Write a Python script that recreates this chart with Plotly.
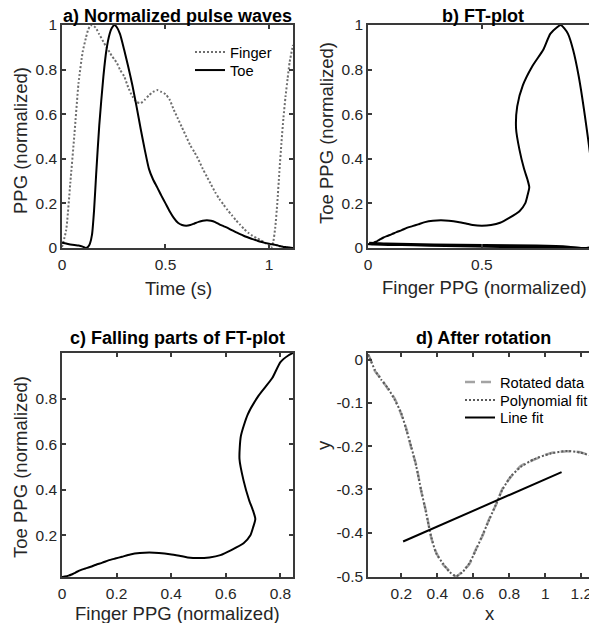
import numpy as np
import plotly.graph_objects as go

# ---------------- data ----------------
time_s = [0.00, 0.02, 0.04, 0.06, 0.08, 0.10, 0.115, 0.125, 0.135, 0.145, 0.155, 0.165, 0.18,
          0.20, 0.215, 0.23, 0.24, 0.253, 0.265, 0.28, 0.30, 0.32, 0.34, 0.36, 0.38, 0.40,
          0.42, 0.44, 0.46, 0.48, 0.50, 0.52, 0.54, 0.56, 0.58, 0.60, 0.62, 0.64, 0.66,
          0.68, 0.70, 0.72, 0.74, 0.76, 0.78, 0.80, 0.82, 0.84, 0.86, 0.88, 0.90, 0.92,
          0.94, 0.96, 0.98, 1.00, 1.01, 1.02, 1.03, 1.04, 1.05, 1.06, 1.07, 1.08, 1.09,
          1.10, 1.116]
finger_ppg = [0.005, 0.08, 0.29, 0.51, 0.74, 0.88, 0.94, 0.975, 0.995, 1.00, 0.995, 0.985, 0.958,
              0.925, 0.90, 0.878, 0.862, 0.846, 0.83, 0.80, 0.77, 0.72, 0.68, 0.655, 0.65, 0.665,
              0.685, 0.70, 0.708, 0.70, 0.69, 0.665, 0.62, 0.58, 0.54, 0.50, 0.46, 0.43, 0.395,
              0.355, 0.32, 0.285, 0.25, 0.22, 0.195, 0.17, 0.148, 0.125, 0.105, 0.085, 0.068, 0.055,
              0.045, 0.035, 0.024, 0.01, 0.0, 0.025, 0.09, 0.20, 0.34, 0.47, 0.585, 0.68, 0.76,
              0.835, 0.91]
toe_ppg = [0.024, 0.02, 0.016, 0.013, 0.011, 0.006, 0.0, 0.004, 0.02, 0.06, 0.17, 0.33, 0.55,
           0.77, 0.89, 0.96, 0.985, 1.0, 0.99, 0.96, 0.89, 0.813, 0.73, 0.635, 0.535, 0.44,
           0.355, 0.307, 0.272, 0.235, 0.2, 0.165, 0.135, 0.113, 0.103, 0.1, 0.103, 0.11, 0.117,
           0.122, 0.124, 0.122, 0.116, 0.106, 0.098, 0.09, 0.08, 0.071, 0.062, 0.054, 0.047, 0.04,
           0.034, 0.028, 0.023, 0.019, 0.017, 0.016, 0.014, 0.012, 0.009, 0.007, 0.005, 0.004, 0.003,
           0.002, 0.0]

rot_x = [0.015, 0.025, 0.053, 0.089, 0.126, 0.163, 0.20, 0.228, 0.255, 0.283, 0.31, 0.338, 0.366,
         0.393, 0.43, 0.467, 0.504, 0.541, 0.578, 0.614, 0.651, 0.688, 0.725, 0.762, 0.808, 0.863,
         0.937, 1.029, 1.121, 1.195, 1.268, 1.28]
rot_y = [0.012, 0.004, -0.026, -0.045, -0.068, -0.09, -0.127, -0.16, -0.204, -0.244, -0.303, -0.352,
         -0.411, -0.445, -0.472, -0.488, -0.501, -0.488, -0.472, -0.438, -0.407, -0.368, -0.336,
         -0.298, -0.271, -0.246, -0.231, -0.216, -0.212, -0.214, -0.225, -0.227]
poly_y = [0.012, 0.003, -0.024, -0.047, -0.066, -0.093, -0.124, -0.163, -0.201, -0.247, -0.301,
          -0.355, -0.409, -0.447, -0.47, -0.49, -0.5, -0.49, -0.47, -0.44, -0.405, -0.37, -0.335,
          -0.30, -0.27, -0.248, -0.23, -0.217, -0.211, -0.215, -0.224, -0.226]
line_x = [0.21, 1.09]
line_y = [-0.42, -0.26]

# tick labels
a_xticks, a_xlabels = [0, 0.5, 1], ["0", "0.5", "1"]
a_yticks, a_ylabels = [0, 0.2, 0.4, 0.6, 0.8, 1], ["0", "0.2", "0.4", "0.6", "0.8", "1"]
c_xticks, c_xlabels = [0, 0.2, 0.4, 0.6, 0.8], ["0", "0.2", "0.4", "0.6", "0.8"]
c_yticks, c_ylabels = [0.2, 0.4, 0.6, 0.8], ["0.2", "0.4", "0.6", "0.8"]
d_xticks, d_xlabels = [0.2, 0.4, 0.6, 0.8, 1, 1.2], ["0.2", "0.4", "0.6", "0.8", "1", "1.2"]
d_yticks, d_ylabels = [0, -0.1, -0.2, -0.3, -0.4, -0.5], ["0", "-0.1", "-0.2", "-0.3", "-0.4", "-0.5"]

# ---------------- layout helpers ----------------
OFF = 8  # default page body margin (keep the page free of scrollbars)
W, H = 597 - OFF, 631 - 2 * OFF
FONT = "Liberation Sans, Arial, sans-serif"
AX = "#262626"


def fx(p):
    return (p - OFF) / W


def fy(p):
    return 1 - (p - OFF) / H


finger = np.array(finger_ppg)
toe = np.array(toe_ppg)
i_peak = int(np.argmax(toe))
i_end = i_peak + int(np.argmin(finger[i_peak:]))
fall_f = finger[i_peak:i_end + 1]
fall_t = toe[i_peak:i_end + 1]

fig = go.Figure()
SM = 0.6
fig.add_trace(go.Scatter(x=time_s, y=finger_ppg, name="Finger", mode="lines", line_shape="spline",
                         line=dict(color="#6e6e6e", width=2, dash="2px,2px", smoothing=SM),
                         xaxis="x", yaxis="y", legend="legend"))
fig.add_trace(go.Scatter(x=time_s, y=toe_ppg, name="Toe", mode="lines", line_shape="spline",
                         line=dict(color="black", width=2, smoothing=SM),
                         xaxis="x", yaxis="y", legend="legend2"))
fig.add_trace(go.Scatter(x=finger_ppg, y=toe_ppg, mode="lines", line_shape="spline", showlegend=False,
                         line=dict(color="black", width=2, smoothing=SM), xaxis="x2", yaxis="y2"))
fig.add_trace(go.Scatter(x=fall_f, y=fall_t, mode="lines", line_shape="spline", showlegend=False,
                         line=dict(color="black", width=2, smoothing=SM), xaxis="x3", yaxis="y3"))
fig.add_trace(go.Scatter(x=rot_x, y=rot_y, name="Rotated data", mode="lines", line_shape="spline",
                         line=dict(color="#a3a3a3", width=2.5, dash="10px,6px", smoothing=SM),
                         xaxis="x4", yaxis="y4", legend="legend3"))
fig.add_trace(go.Scatter(x=rot_x, y=poly_y, name="Polynomial fit", mode="lines", line_shape="spline",
                         line=dict(color="#5a5a5a", width=2, dash="2px,2px", smoothing=SM),
                         xaxis="x4", yaxis="y4", legend="legend4"))
fig.add_trace(go.Scatter(x=line_x, y=line_y, name="Line fit", mode="lines",
                         line=dict(color="black", width=2),
                         xaxis="x4", yaxis="y4", legend="legend5"))


def axis(domain, rng, tv, tt, anchor, letter):
    return dict(domain=domain, range=rng, tickvals=tv, ticktext=tt, anchor=anchor,
                automargin=False,
                showline=True, linecolor="#3a3a3a", linewidth=1.5, mirror="ticks",
                ticks="inside", ticklen=4, tickcolor="#3a3a3a", tickwidth=1.5,
                showgrid=False, zeroline=False,
                ticklabelstandoff=2 if letter == "x" else 0,
                tickfont=dict(family=FONT, size=15.5, color=AX))


L = [fx(62), fx(293)]
R = [fx(368), fx(595.8)]
T = [fy(248), fy(25)]
B = [fy(577), fy(353)]


def leg(text_x, cy):
    return dict(x=fx(text_x - 40), y=fy(cy - 17), xanchor="left", yanchor="top",
                bgcolor="rgba(0,0,0,0)", borderwidth=0,
                font=dict(family=FONT, size=14.7, color="black"))


fig.update_layout(
    template="simple_white",
    width=W, height=H, autosize=False,
    margin=dict(l=0, r=0, t=0, b=0, pad=0),
    paper_bgcolor="white", plot_bgcolor="white",
    font=dict(family=FONT, color=AX),
    xaxis=axis(L, [0, 1.116], a_xticks, a_xlabels, "y", "x"),
    yaxis=axis(T, [0, 1], a_yticks, a_ylabels, "x", "y"),
    xaxis2=axis(R, [0, 1], a_xticks, a_xlabels, "y2", "x"),
    yaxis2=axis(T, [0, 1], a_yticks, a_ylabels, "x2", "y"),
    xaxis3=axis(L, [0, float(fall_f.max())], c_xticks, c_xlabels, "y3", "x"),
    yaxis3=axis(B, [float(fall_t.min()), float(fall_t.max())], c_yticks, c_ylabels, "x3", "y"),
    xaxis4=axis(R, [0.015, 1.28], d_xticks, d_xlabels, "y4", "x"),
    yaxis4=axis(B, [-0.502, 0.015], d_yticks, d_ylabels, "x4", "y"),
    legend=leg(230, 53),
    legend2=leg(230, 71),
    legend3=leg(500, 383),
    legend4=leg(500, 401),
    legend5=leg(500, 418.5),
)

annots = [
    ("a) Normalized pulse waves", 177.5, 16, 0, True),
    ("b) FT-plot", 483.3, 16, 0, True),
    ("c) Falling parts of FT-plot", 177.5, 338, 0, True),
    ("d) After rotation", 483.3, 338, 0, True),
    ("Time (s)", 178, 288, 0, False),
    ("Finger PPG (normalized)", 484, 287, 0, False),
    ("Finger PPG (normalized)", 177, 613.5, 0, False),
    ("x", 490, 613, 0, False),
    ("PPG (normalized)", 20, 141, -90, False),
    ("Toe PPG (normalized)", 326, 133, -90, False),
    ("Toe PPG (normalized)", 20, 467, -90, False),
    ("y", 323, 445, -90, False),
]
for text, x, y, ang, bold in annots:
    fig.add_annotation(
        text=f"<b>{text}</b>" if bold else text,
        x=fx(x), y=fy(y), xref="paper", yref="paper", xanchor="center", yanchor="middle",
        showarrow=False, textangle=ang,
        font=dict(family=FONT, size=18 if bold else 18.5, color="black" if bold else AX),
    )

fig.write_html("out.html")
